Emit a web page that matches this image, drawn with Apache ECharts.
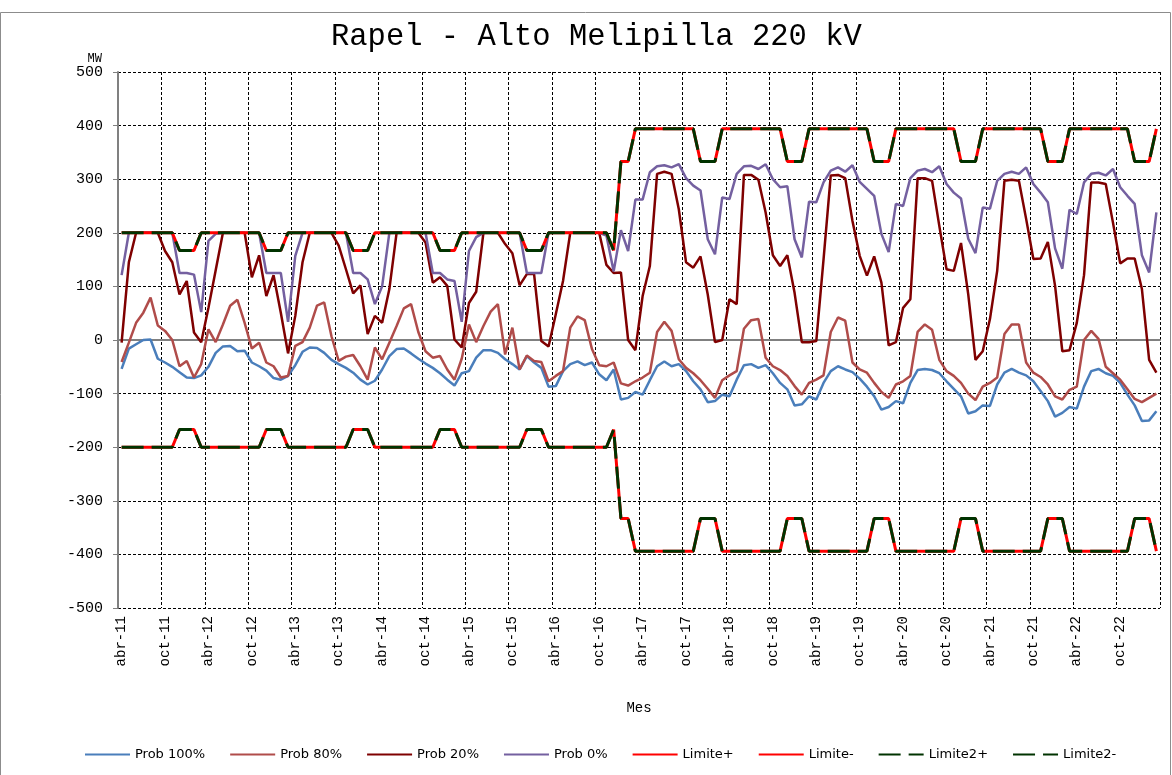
<!DOCTYPE html>
<html>
<head>
<meta charset="utf-8">
<title>Rapel - Alto Melipilla 220 kV</title>
<script src="https://cdn.jsdelivr.net/npm/echarts@6/dist/echarts.min.js"></script>
<style>
  html, body { margin: 0; padding: 0; background: #fff; }
  #chart { width: 1172px; height: 775px; }
</style>
</head>
<body>
<div id="chart"></div>
<script>
// monthly flows (MW), abr-11 .. mar-23

var meses = ['ene', 'feb', 'mar', 'abr', 'may', 'jun', 'jul', 'ago', 'sep', 'oct', 'nov', 'dic'];
var categorias = [];
for (var k = 0; k < 144; k++) {
    categorias.push(meses[(3 + k) % 12] + '-' + (11 + Math.floor((3 + k) / 12)));
}

var prob100 = [
    -54, -16, -8, 0, 1, -35, -42, -50, -60, -70, -71, -66,
    -50, -24, -12, -11, -21, -20, -42, -49, -57, -71, -74, -67,
    -47, -22, -14, -15, -24, -37, -45, -52, -61, -74, -83, -76,
    -55, -30, -17, -16, -25, -35, -44, -52, -62, -74, -85, -62,
    -58, -33, -19, -19, -24, -36, -45, -55, -30, -42, -52, -87,
    -86, -58, -45, -40, -47, -42, -64, -75, -55, -111, -108, -97,
    -102, -75, -49, -40, -49, -45, -58, -77, -92, -116, -114, -102,
    -105, -74, -47, -45, -52, -47, -62, -80, -92, -122, -120, -105,
    -111, -80, -58, -49, -55, -60, -72, -87, -105, -130, -125, -114,
    -118, -80, -56, -54, -56, -62, -77, -91, -105, -137, -133, -122,
    -123, -83, -61, -54, -61, -66, -77, -95, -114, -143, -136, -125,
    -128, -87, -58, -54, -62, -67, -80, -102, -122, -151, -150, -133
];

var prob80 = [
    -41, -5, 32, 51, 79, 27, 17, 0, -49, -39, -70, -45,
    20, -4, 29, 64, 75, 32, -16, -5, -42, -49, -70, -67,
    -11, -4, 23, 64, 70, 7, -39, -31, -28, -49, -74, -14,
    -36, -5, 26, 59, 67, 15, -21, -33, -30, -55, -74, -35,
    29, -4, 26, 53, 67, -27, 23, -55, -29, -39, -41, -77,
    -67, -58, 23, 44, 37, -17, -47, -49, -42, -81, -85, -77,
    -70, -61, 15, 34, 17, -36, -52, -62, -75, -91, -108, -75,
    -66, -58, 21, 37, 39, -33, -49, -56, -67, -86, -102, -80,
    -74, -66, 15, 42, 36, -42, -55, -61, -80, -97, -108, -83,
    -77, -67, 15, 29, 19, -37, -58, -67, -80, -100, -112, -87,
    -80, -70, 11, 29, 29, -42, -61, -69, -83, -105, -111, -93,
    -87, 0, 17, 2, -50, -62, -74, -92, -110, -116, -108, -100
];

var prob20 = [
    -5, 145, 200, 200, 200, 200, 166, 145, 85, 110, 14, -4,
    60, 130, 200, 200, 200, 200, 117, 158, 82, 121, 51, -25,
    45, 145, 200, 200, 200, 200, 176, 132, 87, 102, 11, 45,
    32, 95, 200, 200, 200, 200, 182, 107, 117, 101, 1, -14,
    69, 90, 200, 200, 200, 179, 162, 102, 123, 123, -2, -12,
    48, 110, 200, 200, 200, 200, 200, 140, 125, 126, 0, -19,
    82, 138, 310, 314, 310, 244, 145, 135, 156, 85, -4, 0,
    76, 67, 308, 308, 299, 238, 158, 138, 158, 88, -4, -4,
    -2, 150, 307, 308, 302, 222, 157, 120, 156, 107, -10, -4,
    60, 76, 302, 302, 297, 213, 132, 129, 181, 85, -37, -21,
    39, 129, 297, 299, 297, 226, 151, 152, 183, 101, -21, -19,
    32, 121, 294, 294, 291, 219, 143, 152, 152, 95, -37, -61
];

var prob0 = [
    121, 200, 200, 200, 200, 200, 200, 200, 125, 125, 122, 52,
    185, 198, 200, 200, 200, 200, 200, 200, 125, 125, 125, 34,
    157, 200, 200, 200, 200, 200, 200, 200, 125, 125, 113, 67,
    100, 200, 200, 200, 200, 200, 200, 125, 125, 113, 110, 34,
    166, 192, 200, 200, 200, 200, 200, 200, 125, 125, 125, 200,
    200, 200, 200, 200, 200, 200, 200, 195, 128, 205, 166, 262,
    262, 313, 324, 326, 322, 328, 302, 288, 279, 188, 160, 266,
    263, 310, 324, 325, 319, 328, 300, 285, 287, 188, 154, 258,
    257, 294, 316, 322, 314, 326, 295, 282, 269, 198, 164, 254,
    250, 302, 316, 319, 313, 324, 291, 275, 264, 189, 162, 247,
    245, 297, 310, 314, 310, 322, 291, 275, 257, 171, 133, 243,
    235, 294, 310, 312, 307, 319, 285, 269, 254, 158, 126, 238
];

var limitePos = [
    200, 200, 200, 200, 200, 200, 200, 200, 167, 167, 167, 200,
    200, 200, 200, 200, 200, 200, 200, 200, 167, 167, 167, 200,
    200, 200, 200, 200, 200, 200, 200, 200, 167, 167, 167, 200,
    200, 200, 200, 200, 200, 200, 200, 200, 167, 167, 167, 200,
    200, 200, 200, 200, 200, 200, 200, 200, 167, 167, 167, 200,
    200, 200, 200, 200, 200, 200, 200, 200, 167, 333, 333, 394,
    394, 394, 394, 394, 394, 394, 394, 394, 333, 333, 333, 394,
    394, 394, 394, 394, 394, 394, 394, 394, 333, 333, 333, 394,
    394, 394, 394, 394, 394, 394, 394, 394, 333, 333, 333, 394,
    394, 394, 394, 394, 394, 394, 394, 394, 333, 333, 333, 394,
    394, 394, 394, 394, 394, 394, 394, 394, 333, 333, 333, 394,
    394, 394, 394, 394, 394, 394, 394, 394, 333, 333, 333, 394
];

var limiteNeg = [
    -200, -200, -200, -200, -200, -200, -200, -200, -167, -167, -167, -200,
    -200, -200, -200, -200, -200, -200, -200, -200, -167, -167, -167, -200,
    -200, -200, -200, -200, -200, -200, -200, -200, -167, -167, -167, -200,
    -200, -200, -200, -200, -200, -200, -200, -200, -167, -167, -167, -200,
    -200, -200, -200, -200, -200, -200, -200, -200, -167, -167, -167, -200,
    -200, -200, -200, -200, -200, -200, -200, -200, -167, -333, -333, -394,
    -394, -394, -394, -394, -394, -394, -394, -394, -333, -333, -333, -394,
    -394, -394, -394, -394, -394, -394, -394, -394, -333, -333, -333, -394,
    -394, -394, -394, -394, -394, -394, -394, -394, -333, -333, -333, -394,
    -394, -394, -394, -394, -394, -394, -394, -394, -333, -333, -333, -394,
    -394, -394, -394, -394, -394, -394, -394, -394, -333, -333, -333, -394,
    -394, -394, -394, -394, -394, -394, -394, -394, -333, -333, -333, -394
];

// second pair of limits has the same values in the source
var limite2Pos = limitePos;
var limite2Neg = limiteNeg;

var mono = 'Liberation Mono';

function serie(nombre, datos, color, ancho, tipo) {
    return {
        name: nombre,
        type: 'line',
        data: datos,
        symbol: 'none',
        animation: false,
        lineStyle: { color: color, width: ancho, type: tipo || 'solid' },
        itemStyle: { color: color }
    };
}

var chart = echarts.init(document.getElementById('chart'));

var option = {
    backgroundColor: '#ffffff',
    animation: false,
    title: {
        text: 'Rapel - Alto Melipilla 220 kV',
        left: 326,
        top: 16,
        textStyle: { fontFamily: mono, fontSize: 30.5, fontWeight: 'normal', color: '#000' }
    },
    legend: {
        bottom: 9,
        left: 79,
        itemWidth: 45,
        itemHeight: 10,
        itemGap: 24,
        itemStyle: { opacity: 0 },
        textStyle: { fontFamily: 'DejaVu Sans', fontSize: 13, color: '#000' },
        data: ['Prob 100%', 'Prob 80%', 'Prob 20%', 'Prob 0%', 'Limite+', 'Limite-', 'Limite2+', 'Limite2-']
    },
    grid: {
        left: 118,
        right: 12,
        top: 72,
        bottom: 167
    },
    xAxis: {
        type: 'category',
        data: categorias,
        boundaryGap: true,
        name: 'Mes',
        nameLocation: 'middle',
        nameGap: 93,
        nameTextStyle: { fontFamily: mono, fontSize: 14, color: '#000' },
        axisLine: { lineStyle: { color: '#808080', width: 2 } },
        axisTick: { interval: 5, length: 5, lineStyle: { color: '#808080' } },
        axisLabel: { interval: 5, rotate: 90, fontFamily: mono, fontSize: 14, color: '#000', margin: 8 },
        splitLine: { show: true, interval: 5, lineStyle: { color: '#000', width: 1, type: [3, 2] } }
    },
    yAxis: {
        type: 'value',
        min: -500,
        max: 500,
        interval: 100,
        name: 'MW',
        nameLocation: 'end',
        nameGap: 6,
        nameTextStyle: { fontFamily: mono, fontSize: 12, color: '#000', align: 'right', padding: [0, 16, 0, 0] },
        axisLine: { show: true, lineStyle: { color: '#808080', width: 2 } },
        axisTick: { show: true, length: 5, lineStyle: { color: '#808080' } },
        axisLabel: { fontFamily: mono, fontSize: 15, color: '#000', margin: 15 },
        splitLine: { lineStyle: { color: '#000', width: 1, type: [3, 2] } }
    },
    graphic: [
        {
            type: 'rect',
            silent: true,
            z: -10,
            shape: { x: 0.5, y: 12.5, width: 1170, height: 790 },
            style: { fill: 'none', stroke: '#8c8c8c', lineWidth: 1 }
        }
    ],
    series: [
        serie('Prob 100%', prob100, '#4a7ebb', 2.5),
        serie('Prob 80%', prob80, '#b04c4a', 2.5),
        serie('Prob 20%', prob20, '#7f0000', 2.5),
        serie('Prob 0%', prob0, '#7460a0', 2.5),
        serie('Limite+', limitePos, '#ff0000', 3),
        serie('Limite-', limiteNeg, '#ff0000', 3),
        serie('Limite2+', limite2Pos, '#003300', 3, [22, 8]),
        serie('Limite2-', limite2Neg, '#003300', 3, [22, 8])
    ]
};

chart.setOption(option);
</script>
</body>
</html>
